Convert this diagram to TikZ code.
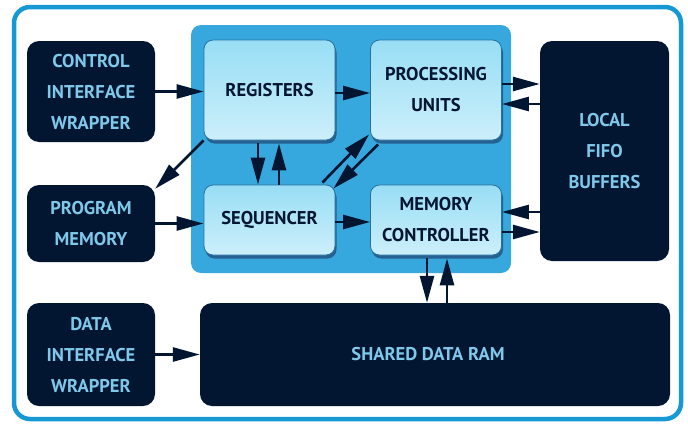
\documentclass[tikz,border=0pt]{standalone}
\usepackage{fontspec}
\setmainfont{PT Sans}
\usetikzlibrary{arrows.meta,shadows,calc}
\definecolor{framecol}{RGB}{22,152,212}
\definecolor{corecol}{RGB}{54,168,221}
\definecolor{navy}{RGB}{2,22,49}
\definecolor{skytext}{RGB}{128,200,234}
\definecolor{unittop}{RGB}{152,222,245}
\definecolor{unitbot}{RGB}{204,239,250}
\definecolor{unitedge}{RGB}{40,112,160}
\definecolor{unitshadow}{RGB}{38,98,145}
\begin{document}
\begin{tikzpicture}[x=1pt,y=-1pt]
  \tikzstyle{darkbox}=[rounded corners=12pt, fill=navy, text=skytext, align=center, inner sep=0pt,
    font=\bfseries\fontsize{18.5}{31}\selectfont]
  \tikzstyle{unit}=[rounded corners=9pt, draw=unitedge, line width=0.8pt, top color=unittop,
    bottom color=unitbot, text=navy, align=center, inner sep=0pt, minimum width=131pt,
    drop shadow={shadow xshift=1.5pt, shadow yshift=-3.5pt, fill=unitshadow, opacity=1},
    font=\bfseries\fontsize{18.5}{31}\selectfont]
  \tikzstyle{arr}=[draw=navy, line width=2.6pt, -{Triangle[length=27pt,width=14pt]}]
  \useasboundingbox (0,0) rectangle (688,423);
  \draw[framecol, line width=4.5pt, rounded corners=16pt] (14,7) rectangle (681,419);
  \node[fill=corecol, rounded corners=10pt, minimum width=320pt, minimum height=248pt] (core) at (351,149) {};
  % outer blocks
  \node[darkbox, minimum width=128pt, minimum height=101pt] (ctrl) at (91,91.5) {CONTROL\\INTERFACE\\WRAPPER};
  \node[darkbox, minimum width=128pt, minimum height=77pt] (prog) at (91,223.5) {PROGRAM\\MEMORY};
  \node[darkbox, minimum width=128pt, minimum height=103pt] (data) at (91,354.5) {DATA\\INTERFACE\\WRAPPER};
  \node[darkbox, minimum width=470pt, minimum height=103pt] (ram) at (435,354.5) {SHARED DATA RAM\hspace{14pt}};
  \node[darkbox, minimum width=129pt, minimum height=220pt] (fifo) at (604.5,151) {LOCAL\\FIFO\\BUFFERS};
  % core units
  \node[unit, minimum height=100pt] (reg) at (269.5,90) {REGISTERS};
  \node[unit, minimum height=100pt] (proc) at (436,90) {PROCESSING\\UNITS};
  \node[unit, minimum height=70pt] (seq) at (269.5,220) {SEQUENCER};
  \node[unit, minimum height=70pt] (mc) at (436,220) {MEMORY\\CONTROLLER};
  % connections
  \draw[arr] (ctrl.east) -- (ctrl.east -| reg.west);
  \draw[arr] ($(reg.east)+(0,3)$) -- ($(proc.west)+(0,3)$);
  \draw[arr] ($(proc.east)+(0,-6)$) -- ($(proc.east -| fifo.west)+(0,-6)$);
  \draw[arr] ($(proc.east -| fifo.west)+(0,14)$) -- ($(proc.east)+(0,14)$);
  \draw[arr] (reg.south west) -- ($(prog.north east)+(0,4)$);
  \draw[arr] ($(reg.south)+(-11.5,3)$) -- ($(seq.north)+(-11.5,0)$);
  \draw[arr] ($(seq.north)+(9.5,0)$) -- ($(reg.south)+(9.5,3)$);
  \draw[arr] ($(seq.north east)+(-13,-2)$) -- ($(proc.south west)+(-1,-6)$);
  \draw[arr] ($(proc.south west)+(8,4)$) -- ($(seq.north east)+(-2,4)$);
  \draw[arr] (prog.east) -- (prog.east -| seq.west);
  \draw[arr] ($(seq.east)+(0,2)$) -- ($(mc.west)+(0,2)$);
  \draw[arr] ($(mc.east -| fifo.west)+(0,-8)$) -- ($(mc.east)+(0,-8)$);
  \draw[arr] ($(mc.east)+(0,12)$) -- ($(mc.east -| fifo.west)+(0,12)$);
  \draw[arr] ($(mc.south)+(-9,3)$) -- ($(ram.north -| mc.south)+(-9,0)$);
  \draw[arr] ($(ram.north -| mc.south)+(11,0)$) -- ($(mc.south)+(11,3)$);
  \draw[arr] (data.east) -- (data.east -| ram.west);
\end{tikzpicture}
\end{document}
